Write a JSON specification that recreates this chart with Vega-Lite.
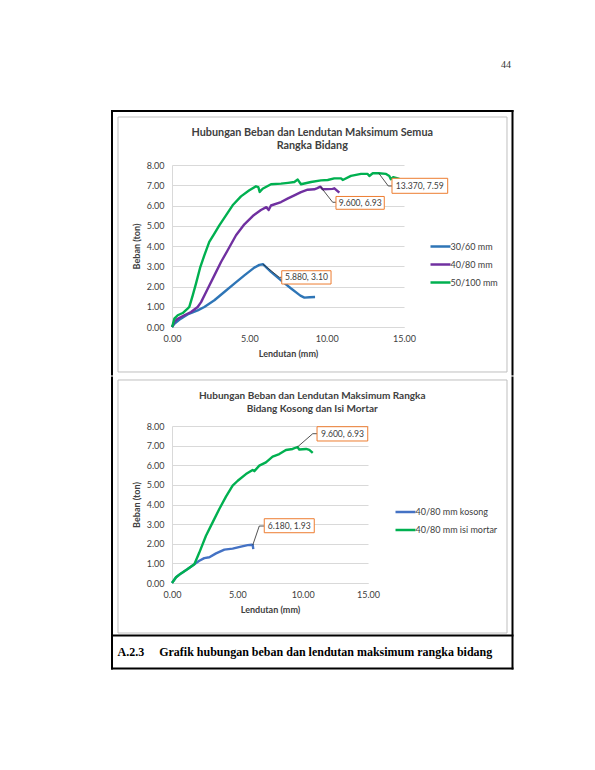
{
  "$schema": "https://vega.github.io/schema/vega-lite/v6.json",
  "background": "white",
  "padding": {"left": 110, "top": 60, "right": 10, "bottom": 10},
  "datasets": {
    "c1": [
      {"s": "30/60 mm", "x": 0, "y": 0}, {"s": "30/60 mm", "x": 0.15, "y": 0.16}, {"s": "30/60 mm", "x": 0.47, "y": 0.36},
      {"s": "30/60 mm", "x": 1.01, "y": 0.62}, {"s": "30/60 mm", "x": 1.66, "y": 0.82}, {"s": "30/60 mm", "x": 2.09, "y": 0.99},
      {"s": "30/60 mm", "x": 2.74, "y": 1.32}, {"s": "30/60 mm", "x": 3.38, "y": 1.73}, {"s": "30/60 mm", "x": 4.03, "y": 2.14},
      {"s": "30/60 mm", "x": 4.68, "y": 2.55}, {"s": "30/60 mm", "x": 5.32, "y": 2.93}, {"s": "30/60 mm", "x": 5.65, "y": 3.07},
      {"s": "30/60 mm", "x": 5.88, "y": 3.10}, {"s": "30/60 mm", "x": 6.40, "y": 2.72}, {"s": "30/60 mm", "x": 7.05, "y": 2.30},
      {"s": "30/60 mm", "x": 7.70, "y": 1.90}, {"s": "30/60 mm", "x": 8.30, "y": 1.55}, {"s": "30/60 mm", "x": 8.56, "y": 1.45},
      {"s": "30/60 mm", "x": 8.90, "y": 1.47}, {"s": "30/60 mm", "x": 9.25, "y": 1.48},
      {"s": "40/80 mm", "x": 0, "y": 0}, {"s": "40/80 mm", "x": 0.04, "y": 0.05}, {"s": "40/80 mm", "x": 0.15, "y": 0.25},
      {"s": "40/80 mm", "x": 0.37, "y": 0.41}, {"s": "40/80 mm", "x": 0.80, "y": 0.58}, {"s": "40/80 mm", "x": 1.23, "y": 0.74},
      {"s": "40/80 mm", "x": 1.66, "y": 0.99}, {"s": "40/80 mm", "x": 1.88, "y": 1.23}, {"s": "40/80 mm", "x": 2.31, "y": 1.89},
      {"s": "40/80 mm", "x": 2.74, "y": 2.55}, {"s": "40/80 mm", "x": 3.17, "y": 3.21}, {"s": "40/80 mm", "x": 3.60, "y": 3.79},
      {"s": "40/80 mm", "x": 4.14, "y": 4.53}, {"s": "40/80 mm", "x": 4.68, "y": 5.07}, {"s": "40/80 mm", "x": 5.22, "y": 5.48},
      {"s": "40/80 mm", "x": 5.75, "y": 5.78}, {"s": "40/80 mm", "x": 6.10, "y": 5.92}, {"s": "40/80 mm", "x": 6.25, "y": 5.78},
      {"s": "40/80 mm", "x": 6.40, "y": 6.00}, {"s": "40/80 mm", "x": 7.05, "y": 6.17}, {"s": "40/80 mm", "x": 7.50, "y": 6.35},
      {"s": "40/80 mm", "x": 7.91, "y": 6.50}, {"s": "40/80 mm", "x": 8.34, "y": 6.66}, {"s": "40/80 mm", "x": 8.77, "y": 6.78},
      {"s": "40/80 mm", "x": 9.20, "y": 6.80}, {"s": "40/80 mm", "x": 9.40, "y": 6.86}, {"s": "40/80 mm", "x": 9.60, "y": 6.93},
      {"s": "40/80 mm", "x": 9.74, "y": 6.80}, {"s": "40/80 mm", "x": 10.10, "y": 6.81}, {"s": "40/80 mm", "x": 10.39, "y": 6.82},
      {"s": "40/80 mm", "x": 10.50, "y": 6.85}, {"s": "40/80 mm", "x": 10.65, "y": 6.75}, {"s": "40/80 mm", "x": 10.82, "y": 6.63},
      {"s": "50/100 mm", "x": 0, "y": 0}, {"s": "50/100 mm", "x": 0.04, "y": 0.08}, {"s": "50/100 mm", "x": 0.15, "y": 0.41},
      {"s": "50/100 mm", "x": 0.37, "y": 0.58}, {"s": "50/100 mm", "x": 0.69, "y": 0.69}, {"s": "50/100 mm", "x": 1.01, "y": 0.91},
      {"s": "50/100 mm", "x": 1.12, "y": 0.99}, {"s": "50/100 mm", "x": 1.34, "y": 1.56}, {"s": "50/100 mm", "x": 1.55, "y": 2.14},
      {"s": "50/100 mm", "x": 1.83, "y": 2.96}, {"s": "50/100 mm", "x": 2.09, "y": 3.54}, {"s": "50/100 mm", "x": 2.41, "y": 4.20},
      {"s": "50/100 mm", "x": 2.74, "y": 4.61}, {"s": "50/100 mm", "x": 3.06, "y": 5.02}, {"s": "50/100 mm", "x": 3.49, "y": 5.51},
      {"s": "50/100 mm", "x": 3.92, "y": 6.01}, {"s": "50/100 mm", "x": 4.46, "y": 6.45}, {"s": "50/100 mm", "x": 5.00, "y": 6.75},
      {"s": "50/100 mm", "x": 5.43, "y": 6.95}, {"s": "50/100 mm", "x": 5.58, "y": 6.91}, {"s": "50/100 mm", "x": 5.67, "y": 6.67},
      {"s": "50/100 mm", "x": 5.86, "y": 6.83}, {"s": "50/100 mm", "x": 6.40, "y": 7.05}, {"s": "50/100 mm", "x": 7.05, "y": 7.08},
      {"s": "50/100 mm", "x": 7.50, "y": 7.12}, {"s": "50/100 mm", "x": 7.91, "y": 7.16}, {"s": "50/100 mm", "x": 8.13, "y": 7.28},
      {"s": "50/100 mm", "x": 8.34, "y": 7.05}, {"s": "50/100 mm", "x": 8.99, "y": 7.16}, {"s": "50/100 mm", "x": 9.63, "y": 7.24},
      {"s": "50/100 mm", "x": 10.07, "y": 7.26}, {"s": "50/100 mm", "x": 10.49, "y": 7.34}, {"s": "50/100 mm", "x": 10.93, "y": 7.34},
      {"s": "50/100 mm", "x": 11.04, "y": 7.26}, {"s": "50/100 mm", "x": 11.57, "y": 7.46}, {"s": "50/100 mm", "x": 12.22, "y": 7.56},
      {"s": "50/100 mm", "x": 12.65, "y": 7.56}, {"s": "50/100 mm", "x": 12.76, "y": 7.46}, {"s": "50/100 mm", "x": 12.98, "y": 7.59},
      {"s": "50/100 mm", "x": 13.37, "y": 7.59}, {"s": "50/100 mm", "x": 13.84, "y": 7.56}, {"s": "50/100 mm", "x": 14.05, "y": 7.46},
      {"s": "50/100 mm", "x": 14.15, "y": 7.30}, {"s": "50/100 mm", "x": 14.30, "y": 7.40}, {"s": "50/100 mm", "x": 14.59, "y": 7.34},
      {"s": "50/100 mm", "x": 14.72, "y": 7.30}
    ],
    "c2": [
      {"s": "40/80 mm kosong", "x": 0, "y": 0}, {"s": "40/80 mm kosong", "x": 0.31, "y": 0.29}, {"s": "40/80 mm kosong", "x": 0.69, "y": 0.49},
      {"s": "40/80 mm kosong", "x": 1.20, "y": 0.71}, {"s": "40/80 mm kosong", "x": 1.71, "y": 0.96}, {"s": "40/80 mm kosong", "x": 2.09, "y": 1.13},
      {"s": "40/80 mm kosong", "x": 2.47, "y": 1.27}, {"s": "40/80 mm kosong", "x": 2.86, "y": 1.31}, {"s": "40/80 mm kosong", "x": 3.37, "y": 1.51},
      {"s": "40/80 mm kosong", "x": 4.01, "y": 1.70}, {"s": "40/80 mm kosong", "x": 4.64, "y": 1.75}, {"s": "40/80 mm kosong", "x": 5.28, "y": 1.85},
      {"s": "40/80 mm kosong", "x": 5.79, "y": 1.93}, {"s": "40/80 mm kosong", "x": 6.12, "y": 1.95}, {"s": "40/80 mm kosong", "x": 6.18, "y": 1.93},
      {"s": "40/80 mm kosong", "x": 6.22, "y": 1.73},
      {"s": "40/80 mm isi mortar", "x": 0, "y": 0}, {"s": "40/80 mm isi mortar", "x": 0.31, "y": 0.29}, {"s": "40/80 mm isi mortar", "x": 0.69, "y": 0.49},
      {"s": "40/80 mm isi mortar", "x": 1.20, "y": 0.71}, {"s": "40/80 mm isi mortar", "x": 1.71, "y": 0.96}, {"s": "40/80 mm isi mortar", "x": 2.09, "y": 1.55},
      {"s": "40/80 mm isi mortar", "x": 2.60, "y": 2.41}, {"s": "40/80 mm isi mortar", "x": 3.11, "y": 3.09}, {"s": "40/80 mm isi mortar", "x": 3.62, "y": 3.77},
      {"s": "40/80 mm isi mortar", "x": 4.13, "y": 4.40}, {"s": "40/80 mm isi mortar", "x": 4.64, "y": 4.96}, {"s": "40/80 mm isi mortar", "x": 5.03, "y": 5.21},
      {"s": "40/80 mm isi mortar", "x": 5.66, "y": 5.55}, {"s": "40/80 mm isi mortar", "x": 6.17, "y": 5.76}, {"s": "40/80 mm isi mortar", "x": 6.30, "y": 5.70},
      {"s": "40/80 mm isi mortar", "x": 6.68, "y": 5.98}, {"s": "40/80 mm isi mortar", "x": 7.19, "y": 6.15}, {"s": "40/80 mm isi mortar", "x": 7.70, "y": 6.44},
      {"s": "40/80 mm isi mortar", "x": 8.21, "y": 6.57}, {"s": "40/80 mm isi mortar", "x": 8.72, "y": 6.78}, {"s": "40/80 mm isi mortar", "x": 9.23, "y": 6.83},
      {"s": "40/80 mm isi mortar", "x": 9.60, "y": 6.93}, {"s": "40/80 mm isi mortar", "x": 9.74, "y": 6.80}, {"s": "40/80 mm isi mortar", "x": 10.26, "y": 6.83},
      {"s": "40/80 mm isi mortar", "x": 10.51, "y": 6.78}, {"s": "40/80 mm isi mortar", "x": 10.77, "y": 6.63}
    ],
    "n1": [
      {"label": "13.370, 7.59", "x": 13.37, "y": 7.59},
      {"label": "9.600, 6.93", "x": 9.6, "y": 6.93},
      {"label": "5.880, 3.10", "x": 5.88, "y": 3.10}
    ],
    "n2": [
      {"label": "9.600, 6.93", "x": 9.6, "y": 6.93},
      {"label": "6.180, 1.93", "x": 6.18, "y": 1.93}
    ]
  },
  "title": {
    "text": "A.2.3\u00a0\u00a0\u00a0\u00a0\u00a0Grafik hubungan beban dan lendutan maksimum rangka bidang",
    "orient": "bottom", "anchor": "start", "offset": -23, "dx": 6.5,
    "font": "Liberation Serif", "fontSize": 12, "fontWeight": "bold", "color": "black"
  },
  "vconcat": [
    {
      "title": {"text": "44", "orient": "top", "anchor": "end", "offset": 40, "dx": -2.5,
        "font": "Liberation Serif", "fontSize": 10, "fontWeight": "normal", "color": "#333333"},
      "spacing": 0,
      "resolve": {"scale": {"color": "independent"}, "legend": {"color": "independent"}},
      "vconcat": [
        {
          "width": 232,
          "height": 162,
          "title": {"text": ["Hubungan Beban dan Lendutan Maksimum Semua", "Rangka Bidang"], "frame": "bounds", "offset": -40.5, "fontSize": 10.8, "lineHeight": 13},
          "layer": [
            {"data": {"values": [{}]}, "mark": {"type": "rect", "color": "black"},
             "encoding": {"x": {"datum": -3.944, "type": "quantitative"}, "x2": {"datum": 22.080}, "y": {"datum": 10.617, "type": "quantitative"}, "y2": {"datum": 10.716}}},
            {"data": {"values": [{}]}, "mark": {"type": "rect", "color": "black"},
             "encoding": {"x": {"datum": -3.944, "type": "quantitative"}, "x2": {"datum": -3.815}, "y": {"datum": 10.716, "type": "quantitative"}, "y2": {"datum": -2.395}}},
            {"data": {"values": [{}]}, "mark": {"type": "rect", "color": "black"},
             "encoding": {"x": {"datum": 21.950, "type": "quantitative"}, "x2": {"datum": 22.080}, "y": {"datum": 10.716, "type": "quantitative"}, "y2": {"datum": -2.395}}},
            {"data": {"values": [{}]}, "mark": {"type": "rect", "fillOpacity": 0, "stroke": "#BFBFBF", "strokeWidth": 1},
             "encoding": {"x": {"datum": -3.491, "type": "quantitative"}, "x2": {"datum": 21.659}, "y": {"datum": 10.370, "type": "quantitative"}, "y2": {"datum": -2.222}}},
            {
              "data": {"name": "c1"},
              "mark": {"type": "line", "strokeWidth": 2.4, "strokeJoin": "round"},
              "encoding": {
                "x": {"field": "x", "type": "quantitative", "scale": {"domain": [0, 15], "nice": false, "zero": false},
                      "axis": {"values": [0, 5, 10, 15], "tickCount": 20, "format": ".2f", "title": "Lendutan (mm)"}},
                "y": {"field": "y", "type": "quantitative", "scale": {"domain": [0, 8], "nice": false},
                      "axis": {"values": [0, 1, 2, 3, 4, 5, 6, 7, 8], "tickCount": 20, "format": ".2f", "title": "Beban (ton)"}},
                "color": {"field": "s", "type": "nominal",
                          "scale": {"domain": ["30/60 mm", "40/80 mm", "50/100 mm"], "range": ["#2E75B6", "#7030A0", "#00B050"]},
                          "legend": {"orient": "none", "legendX": 257, "legendY": 70}}
              }
            },
            {"data": {"name": "n1"}, "transform": [{"filter": "datum.label === '13.370, 7.59'"}],
             "mark": {"type": "point", "shape": "M0,0L9.5,12.7H13.2", "size": 4, "filled": false, "stroke": "#262626", "strokeWidth": 0.8, "opacity": 1},
             "encoding": {"x": {"field": "x", "type": "quantitative"}, "y": {"field": "y", "type": "quantitative"}}},
            {"data": {"name": "n1"}, "transform": [{"filter": "datum.label === '13.370, 7.59'"}],
             "mark": {"type": "point", "shape": "M13.2,5H68.9V20H13.2Z", "size": 4, "filled": true, "fill": "white", "stroke": "#ED7D31", "strokeWidth": 1, "opacity": 1},
             "encoding": {"x": {"field": "x", "type": "quantitative"}, "y": {"field": "y", "type": "quantitative"}}},
            {"data": {"name": "n1"}, "transform": [{"filter": "datum.label === '13.370, 7.59'"}],
             "mark": {"type": "text", "dx": 41, "dy": 12.5, "align": "center", "baseline": "middle", "fontSize": 8.6, "color": "#404040"},
             "encoding": {"x": {"field": "x", "type": "quantitative"}, "y": {"field": "y", "type": "quantitative"}, "text": {"field": "label"}}},
            {"data": {"name": "n1"}, "transform": [{"filter": "datum.label === '9.600, 6.93'"}],
             "mark": {"type": "point", "shape": "M0,0L12.2,15.6H15.5", "size": 4, "filled": false, "stroke": "#262626", "strokeWidth": 0.8, "opacity": 1},
             "encoding": {"x": {"field": "x", "type": "quantitative"}, "y": {"field": "y", "type": "quantitative"}}},
            {"data": {"name": "n1"}, "transform": [{"filter": "datum.label === '9.600, 6.93'"}],
             "mark": {"type": "point", "shape": "M15.5,9.8H63.8V22.6H15.5Z", "size": 4, "filled": true, "fill": "white", "stroke": "#ED7D31", "strokeWidth": 1, "opacity": 1},
             "encoding": {"x": {"field": "x", "type": "quantitative"}, "y": {"field": "y", "type": "quantitative"}}},
            {"data": {"name": "n1"}, "transform": [{"filter": "datum.label === '9.600, 6.93'"}],
             "mark": {"type": "text", "dx": 39.7, "dy": 16.2, "align": "center", "baseline": "middle", "fontSize": 8.6, "color": "#404040"},
             "encoding": {"x": {"field": "x", "type": "quantitative"}, "y": {"field": "y", "type": "quantitative"}, "text": {"field": "label"}}},
            {"data": {"name": "n1"}, "transform": [{"filter": "datum.label === '5.880, 3.10'"}],
             "mark": {"type": "point", "shape": "M0,0L16.4,13.1H18.8", "size": 4, "filled": false, "stroke": "#262626", "strokeWidth": 0.8, "opacity": 1},
             "encoding": {"x": {"field": "x", "type": "quantitative"}, "y": {"field": "y", "type": "quantitative"}}},
            {"data": {"name": "n1"}, "transform": [{"filter": "datum.label === '5.880, 3.10'"}],
             "mark": {"type": "point", "shape": "M18.8,6.5H68.1V19.8H18.8Z", "size": 4, "filled": true, "fill": "white", "stroke": "#ED7D31", "strokeWidth": 1, "opacity": 1},
             "encoding": {"x": {"field": "x", "type": "quantitative"}, "y": {"field": "y", "type": "quantitative"}}},
            {"data": {"name": "n1"}, "transform": [{"filter": "datum.label === '5.880, 3.10'"}],
             "mark": {"type": "text", "dx": 43.5, "dy": 13.2, "align": "center", "baseline": "middle", "fontSize": 8.6, "color": "#404040"},
             "encoding": {"x": {"field": "x", "type": "quantitative"}, "y": {"field": "y", "type": "quantitative"}, "text": {"field": "label"}}}
          ]
        },
        {
          "width": 196,
          "height": 157,
          "title": {"text": ["Hubungan Beban dan Lendutan Maksimum Rangka", "Bidang Kosong dan Isi Mortar"], "frame": "bounds", "offset": -37.3, "fontSize": 10, "lineHeight": 13.3},
          "layer": [
            {"data": {"values": [{}]}, "mark": {"type": "rect", "color": "black"},
             "encoding": {"x": {"datum": -4.668, "type": "quantitative"}, "x2": {"datum": -4.515}, "y": {"datum": 10.522, "type": "quantitative"}, "y2": {"datum": -4.408}}},
            {"data": {"values": [{}]}, "mark": {"type": "rect", "color": "black"},
             "encoding": {"x": {"datum": 25.982, "type": "quantitative"}, "x2": {"datum": 26.135}, "y": {"datum": 10.522, "type": "quantitative"}, "y2": {"datum": -4.408}}},
            {"data": {"values": [{}]}, "mark": {"type": "rect", "color": "black"},
             "encoding": {"x": {"datum": -4.668, "type": "quantitative"}, "x2": {"datum": 26.135}, "y": {"datum": -4.306, "type": "quantitative"}, "y2": {"datum": -4.408}}},
            {"data": {"values": [{}]}, "mark": {"type": "rect", "color": "black"},
             "encoding": {"x": {"datum": -4.668, "type": "quantitative"}, "x2": {"datum": 26.135}, "y": {"datum": -2.624, "type": "quantitative"}, "y2": {"datum": -2.726}}},
            {"data": {"values": [{}]}, "mark": {"type": "rect", "fillOpacity": 0, "stroke": "#BFBFBF", "strokeWidth": 1},
             "encoding": {"x": {"datum": -4.133, "type": "quantitative"}, "x2": {"datum": 25.638}, "y": {"datum": 10.344, "type": "quantitative"}, "y2": {"datum": -2.548}}},
            {
              "data": {"name": "c2"},
              "mark": {"type": "line", "strokeWidth": 2.4, "strokeJoin": "round"},
              "encoding": {
                "x": {"field": "x", "type": "quantitative", "scale": {"domain": [0, 15], "nice": false, "zero": false},
                      "axis": {"values": [0, 5, 10, 15], "tickCount": 20, "format": ".2f", "title": "Lendutan (mm)"}},
                "y": {"field": "y", "type": "quantitative", "scale": {"domain": [0, 8], "nice": false},
                      "axis": {"values": [0, 1, 2, 3, 4, 5, 6, 7, 8], "tickCount": 20, "format": ".2f", "title": "Beban (ton)"}},
                "color": {"field": "s", "type": "nominal",
                          "scale": {"domain": ["40/80 mm kosong", "40/80 mm isi mortar"], "range": ["#4472C4", "#00B050"]},
                          "legend": {"orient": "none", "legendX": 222, "legendY": 74.5}}
              }
            },
            {"data": {"name": "n2"}, "transform": [{"filter": "datum.label === '9.600, 6.93'"}],
             "mark": {"type": "point", "shape": "M0,0L15.3,-13.3H19.6", "size": 4, "filled": false, "stroke": "#262626", "strokeWidth": 0.8, "opacity": 1},
             "encoding": {"x": {"field": "x", "type": "quantitative"}, "y": {"field": "y", "type": "quantitative"}}},
            {"data": {"name": "n2"}, "transform": [{"filter": "datum.label === '9.600, 6.93'"}],
             "mark": {"type": "point", "shape": "M19.6,-20.3H70.3V-6H19.6Z", "size": 4, "filled": true, "fill": "white", "stroke": "#ED7D31", "strokeWidth": 1, "opacity": 1},
             "encoding": {"x": {"field": "x", "type": "quantitative"}, "y": {"field": "y", "type": "quantitative"}}},
            {"data": {"name": "n2"}, "transform": [{"filter": "datum.label === '9.600, 6.93'"}],
             "mark": {"type": "text", "dx": 45, "dy": -13.2, "align": "center", "baseline": "middle", "fontSize": 8.6, "color": "#404040"},
             "encoding": {"x": {"field": "x", "type": "quantitative"}, "y": {"field": "y", "type": "quantitative"}, "text": {"field": "label"}}},
            {"data": {"name": "n2"}, "transform": [{"filter": "datum.label === '6.180, 1.93'"}],
             "mark": {"type": "point", "shape": "M0,0L6.5,-19.1H11.5", "size": 4, "filled": false, "stroke": "#262626", "strokeWidth": 0.8, "opacity": 1},
             "encoding": {"x": {"field": "x", "type": "quantitative"}, "y": {"field": "y", "type": "quantitative"}}},
            {"data": {"name": "n2"}, "transform": [{"filter": "datum.label === '6.180, 1.93'"}],
             "mark": {"type": "point", "shape": "M11.5,-26.4H61.5V-12.4H11.5Z", "size": 4, "filled": true, "fill": "white", "stroke": "#ED7D31", "strokeWidth": 1, "opacity": 1},
             "encoding": {"x": {"field": "x", "type": "quantitative"}, "y": {"field": "y", "type": "quantitative"}}},
            {"data": {"name": "n2"}, "transform": [{"filter": "datum.label === '6.180, 1.93'"}],
             "mark": {"type": "text", "dx": 36.5, "dy": -19.4, "align": "center", "baseline": "middle", "fontSize": 8.6, "color": "#404040"},
             "encoding": {"x": {"field": "x", "type": "quantitative"}, "y": {"field": "y", "type": "quantitative"}, "text": {"field": "label"}}}
          ]
        }
      ]
    }
  ],
  "config": {
    "font": "Lato",
    "view": {"stroke": null},
    "title": {"font": "Lato", "fontWeight": "bold", "color": "#404040", "anchor": "middle"},
    "axis": {
      "labelFont": "Lato", "labelFontSize": 9, "labelColor": "#404040",
      "titleFont": "Lato", "titleFontSize": 9, "titleFontWeight": "bold", "titleColor": "#404040",
      "domainColor": "#D9D9D9", "gridColor": "#D9D9D9", "ticks": false,
      "labelFlush": false, "labelOverlap": false, "tickCount": 20
    },
    "axisX": {"grid": false, "labelPadding": 7, "titlePadding": 6},
    "axisY": {"grid": true, "labelPadding": 8, "titlePadding": 5},
    "legend": {
      "title": null, "padding": 0, "symbolType": "stroke", "symbolSize": 400, "symbolStrokeWidth": 2.5,
      "labelFont": "Lato", "labelFontSize": 9, "labelColor": "#404040", "labelOffset": -1.5, "rowPadding": 1
    }
  }
}
